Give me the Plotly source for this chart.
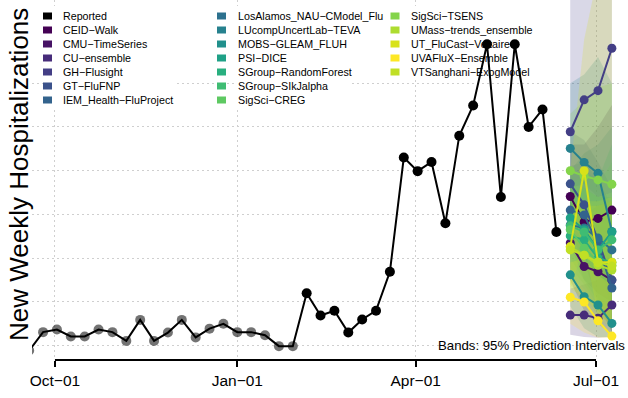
import plotly.graph_objects as go
import pandas as pd

FONT = "Liberation Sans, Arial, Helvetica, sans-serif"

# ---------------- data ----------------
report_dates = pd.date_range("2021-09-18", periods=39, freq="7D")
reported = [89, 131, 137, 121, 121, 137, 131, 111, 159, 111, 130, 159, 119, 139, 150,
            131, 131, 124, 99, 99, 220, 169, 180, 130, 160, 180, 269, 530, 499, 520,
            380, 580, 649, 789, 440, 789, 600, 640, 360]
first_black_date = "2022-02-05"

fc_dates = ["2022-06-18", "2022-06-25", "2022-07-02", "2022-07-09"]

models = ["CEID\u2212Walk", "CMU\u2212TimeSeries", "CU\u2212ensemble", "GH\u2212Flusight",
          "GT\u2212FluFNP", "IEM_Health\u2212FluProject", "LosAlamos_NAU\u2212CModel_Flu",
          "LUcompUncertLab\u2212TEVA", "MOBS\u2212GLEAM_FLUH", "PSI\u2212DICE",
          "SGroup\u2212RandomForest", "SGroup\u2212SIkJalpha", "SigSci\u2212CREG",
          "SigSci\u2212TSENS", "UMass\u2212trends_ensemble", "UT_FluCast\u2212Voltaire",
          "UVAFluX\u2212Ensemble", "VTSanghani\u2212ExogModel"]

colors = ["#440154", "#471365", "#472C7A", "#433E85", "#3B528B", "#33638D",
          "#2D718E", "#26818E", "#21908C", "#1FA187", "#29AF7F", "#3FBC73",
          "#5EC962", "#84D44B", "#ADDC30", "#D8E219", "#FDE725", "#C0DF25"]

median = [
    [441, 383, 391, 410],   # CEID
    [335, 281, 269, 250],   # CMU
    [170, 170, 163, 193],   # CU
    [589, 662, 683, 780],   # GH
    [470, 422, 342, 250],   # GT
    [410, 399, 330, 232],   # IEM
    [376, 369, 346, 319],   # LosAlamos
    [551, 519, 494, 361],   # LUcomp
    [262, 212, 193, 151],   # MOBS
    [392, 365, 319, 360],   # PSI
    [351, 342, 300, 291],   # SGroup-RF
    [374, 360, 319, 342],   # SIkJalpha
    [365, 323, 291, 284],   # CREG
    [500, 488, 479, 469],   # TSENS
    [326, 307, 284, 273],   # UMass
    [326, 500, 291, 291],   # UT
    [211, 200, 157, 122],   # UVAFluX
    [319, 307, 291, 282],   # VTS
]
lower = [
    [330, 250, 220, 200],
    [250, 180, 150, 125],
    [125, 120, 118, 120],
    [460, 470, 440, 450],
    [360, 290, 200, 130],
    [320, 290, 210, 130],
    [260, 220, 180, 140],
    [420, 350, 300, 180],
    [190, 140, 120, 120],
    [300, 250, 200, 200],
    [260, 230, 180, 160],
    [280, 240, 190, 190],
    [270, 210, 170, 150],
    [380, 340, 300, 270],
    [240, 200, 160, 140],
    [230, 330, 170, 150],
    [150, 130, 118, 118],
    [230, 210, 180, 160],
]
upper = [
    [560, 560, 600, 650],
    [430, 400, 420, 430],
    [230, 240, 250, 290],
    [920, 960, 1000, 1100],
    [590, 570, 520, 460],
    [510, 520, 480, 420],
    [500, 540, 560, 600],
    [700, 720, 760, 700],
    [340, 300, 300, 280],
    [490, 500, 480, 560],
    [450, 460, 440, 440],
    [470, 490, 470, 520],
    [470, 460, 440, 450],
    [630, 660, 690, 700],
    [420, 430, 430, 440],
    [500, 800, 950, 1000],
    [290, 300, 260, 240],
    [420, 420, 420, 430],
]

tick_dates = ["2021-10-01", "2022-01-01", "2022-04-01", "2022-07-01"]
tick_labels = ["Oct\u221201", "Jan\u221201", "Apr\u221201", "Jul\u221201"]
grid_values = [100, 200, 300, 400, 500, 600, 700]

y_title = "New Weekly Hospitalizations"
band_note = "Bands: 95% Prediction Intervals"

# ---------------- layout geometry ----------------
W, H = 628, 398
ML, MR, MT, MB = 32, 2, 0, 38
PW, PH = W - ML - MR, H - MT - MB
XR = ["2021-09-19 10:00", "2022-07-16 03:00"]
YR = [67.3, 890.2]


def fx(px):
    return (px - ML) / PW


def fy(py):
    return (MT + PH - py) / PH


def dx(px):
    a, b = pd.Timestamp(XR[0]), pd.Timestamp(XR[1])
    return (a + (b - a) * fx(px)).strftime("%Y-%m-%d %H:%M:%S")


def dy(py):
    return YR[0] + (YR[1] - YR[0]) * fy(py)


def hexa(c, a):
    c = c.lstrip("#")
    return "rgba(%d,%d,%d,%.3f)" % (int(c[0:2], 16), int(c[2:4], 16), int(c[4:6], 16), a)


fig = go.Figure()

# prediction bands
for name, col, lo, up in zip(models, colors, lower, upper):
    fig.add_trace(go.Scatter(
        x=fc_dates + fc_dates[::-1], y=lo + up[::-1], mode="lines",
        fill="toself", fillcolor=hexa(col, 0.2), line=dict(width=0),
        hoverinfo="skip", showlegend=False))

# reported data: early points (gray), line, later points (black)
rd = list(report_dates)
cut = pd.Timestamp(first_black_date)
early_x = [d for d in rd if d < cut]
early_y = [v for d, v in zip(rd, reported) if d < cut]
late_x = [d for d in rd if d >= cut]
late_y = [v for d, v in zip(rd, reported) if d >= cut]

fig.add_trace(go.Scatter(x=early_x, y=early_y, mode="markers",
                         marker=dict(size=10, color="rgba(0,0,0,0.55)"),
                         showlegend=False, name="Reported"))
fig.add_trace(go.Scatter(x=rd, y=reported, mode="lines",
                         line=dict(color="black", width=2), showlegend=False,
                         name="Reported"))
fig.add_trace(go.Scatter(x=late_x, y=late_y, mode="markers",
                         marker=dict(size=10, color="black"), showlegend=False,
                         name="Reported"))

# model forecasts
for name, col, med in zip(models, colors, median):
    fig.add_trace(go.Scatter(x=fc_dates, y=med, mode="lines+markers", name=name,
                             line=dict(color=col, width=2),
                             marker=dict(size=9, color=col), showlegend=False))

# ---------------- manual legend (three columns, R style) ----------------
leg_names = ["Reported"] + models
leg_colors = ["black"] + colors
col_rows = [7, 7, 5]
col_square_x = [47.5, 221.5, 395]
col_text_x = [61, 235.5, 408.5]
col_boxes = [(44, 176), (234, 352), (390, 530)]
row_y0, row_dy = 16, 14

shapes = []
annotations = []
k = 0
for c in range(3):
    bx0, bx1 = col_boxes[c]
    by1 = row_y0 + (col_rows[c] - 1) * row_dy + 7
    shapes.append(dict(type="rect", xref="x", yref="y", layer="between",
                       x0=dx(bx0), x1=dx(bx1), y0=dy(by1), y1=dy(6),
                       fillcolor="white", line=dict(width=0)))
for c in range(3):
    for r in range(col_rows[c]):
        yc = row_y0 + r * row_dy
        sx = col_square_x[c]
        shapes.append(dict(type="rect", xref="paper", yref="paper", layer="above",
                           x0=fx(sx - 4.5), x1=fx(sx + 4.5), y0=fy(yc + 3.5), y1=fy(yc - 3.5),
                           fillcolor=leg_colors[k], line=dict(width=0)))
        annotations.append(dict(xref="paper", yref="paper", x=fx(col_text_x[c]), y=fy(yc),
                                xanchor="left", yanchor="middle", showarrow=False,
                                text=leg_names[k], font=dict(family=FONT, size=10.7, color="black")))
        k += 1

# x axis line (only between first and last tick, R style)
shapes.append(dict(type="line", xref="x", yref="paper", x0=tick_dates[0], x1=tick_dates[-1],
                   y0=0, y1=0, line=dict(color="black", width=2), layer="above"))

annotations.append(dict(xref="paper", yref="paper", x=0, y=fy(175), xshift=-13,
                        xanchor="center", yanchor="middle", textangle=-90, showarrow=False,
                        text=y_title, font=dict(family=FONT, size=26, color="black")))
annotations.append(dict(xref="paper", yref="paper", x=1, y=fy(345), xshift=1,
                        xanchor="right", yanchor="middle", showarrow=False,
                        text=band_note, font=dict(family=FONT, size=13.2, color="black")))

fig.update_layout(
    width=W, height=H, margin=dict(l=ML, r=MR, t=MT, b=MB, autoexpand=False),
    paper_bgcolor="white", plot_bgcolor="white", showlegend=False,
    font=dict(family=FONT, color="black"),
    shapes=shapes, annotations=annotations,
    xaxis=dict(type="date", range=XR,
               tickvals=tick_dates, ticktext=tick_labels, ticks="outside", ticklen=6,
               tickwidth=2, tickcolor="black", showline=False, zeroline=False,
               showgrid=True, gridcolor="#CFCFCF", griddash="2px,3px", gridwidth=1,
               tickfont=dict(family=FONT, size=15.5, color="black"), automargin=False),
    yaxis=dict(range=YR, tickvals=grid_values, showticklabels=False,
               ticks="", showline=False, zeroline=False, showgrid=True, automargin=False,
               gridcolor="#CFCFCF", griddash="2px,3px", gridwidth=1),
)

fig.write_html("out.html", config={"displayModeBar": False},
               post_script="document.body.style.margin='0';document.body.style.overflow='hidden';")
